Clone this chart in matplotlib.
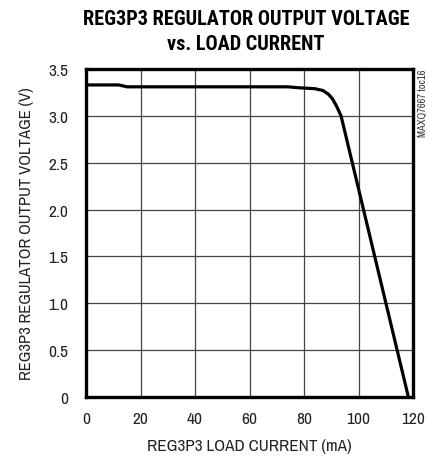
import numpy as np
import matplotlib.pyplot as plt

# load current (mA) vs REG3P3 output voltage (V)
current = [0, 12, 15, 40, 74, 78, 84, 87, 89, 90.5, 92, 93.6, 118.3]
voltage = [3.33, 3.33, 3.31, 3.31, 3.31, 3.30, 3.29, 3.27, 3.23, 3.18, 3.10, 3.00, 0.0]

x_ticks = [0, 20, 40, 60, 80, 100, 120]
y_ticks = [0, 0.5, 1.0, 1.5, 2.0, 2.5, 3.0, 3.5]
y_tick_labels = ['0', '0.5', '1.0', '1.5', '2.0', '2.5', '3.0', '3.5']

narrow = ['Archivo Narrow', 'DejaVu Sans']
heavy = ['Roboto Condensed', 'DejaVu Sans']
plt.rcParams['font.family'] = narrow

fig = plt.figure(figsize=(4.29, 4.60), dpi=100)
ax = fig.add_axes([0.2005, 0.1348, 0.7622, 0.7130])

ax.plot(current, voltage, color='black', lw=2.3, solid_capstyle='butt', zorder=3)

ax.set_xlim(0, 120)
ax.set_ylim(0, 3.5)
ax.set_xticks(x_ticks)
ax.set_yticks(y_ticks)
ax.set_yticklabels(y_tick_labels)
ax.tick_params(length=0, labelsize=12.5, colors='#222222')
ax.tick_params(axis='y', pad=13)
ax.tick_params(axis='x', pad=10)
ax.grid(True, color='#444444', lw=0.9)
for s in ax.spines.values():
    s.set_linewidth(2.4)

ax.set_xlabel('REG3P3 LOAD CURRENT (mA)', fontsize=12.3, color='#222222', labelpad=9)
ax.set_ylabel('REG3P3 REGULATOR OUTPUT VOLTAGE (V)', fontsize=12, color='#222222', labelpad=10)

fig.text(0.5735, 0.978, 'REG3P3 REGULATOR OUTPUT VOLTAGE\nvs. LOAD CURRENT',
         ha='center', va='top', fontsize=14.6, fontweight='black', family=heavy,
         linespacing=1.42)
fig.text(0.997, 0.848, 'MAXQ7667 toc16', rotation=90, ha='right', va='top',
         fontsize=7.5, color='#333333')

fig.savefig('out.png', dpi=100)
